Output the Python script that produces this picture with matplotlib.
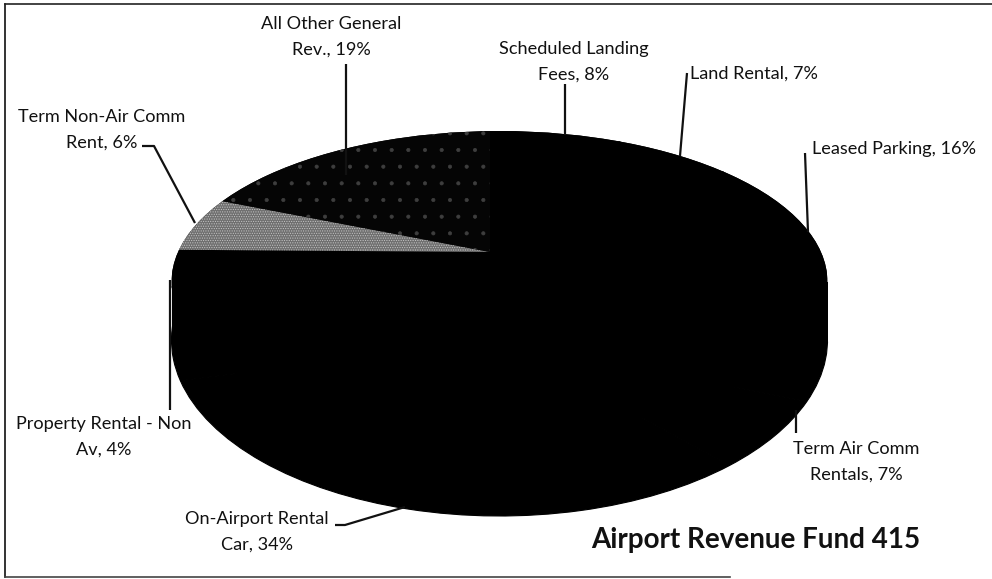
import matplotlib
matplotlib.use('Agg')
import matplotlib.pyplot as plt
from matplotlib.patches import Ellipse, Rectangle

W, H = 992, 579

categories = ['Scheduled Landing\nFees', 'Land Rental', 'Leased Parking', 'Term Air Comm\nRentals',
              'On-Airport Rental\nCar', 'Property Rental - Non\nAv', 'Term Non-Air Comm\nRent',
              'All Other General\nRev.']
shares = [8, 7, 16, 7, 34, 4, 6, 19]
title = 'Airport Revenue Fund 415'

slice_colors = ['black', 'black', 'black', 'black', 'black', 'black', '#6f6f6f', '#050505']
slice_edges = ['black', 'black', 'black', 'black', 'black', 'black', '#c4c4c4', '#3e3e3e']
slice_hatch = [None, None, None, None, None, None, '.......', '.']

label_xy = [(574, 62), (754, 74), (894, 149), (856, 462), (257, 532), (104, 437), (102, 130), (331, 37)]
leaders = [
    [(565, 84), (565, 135)],
    [(687, 73), (680, 156)],
    [(805, 153), (808, 232)],
    [(796, 410), (796, 433)],
    [(335, 525), (345, 525), (405, 507)],
    [(170, 280), (170, 410)],
    [(142, 146), (154, 146), (195, 223)],
    [(346, 64), (346, 175)],
]
border_left = [(5, 4), (5, 577)]
border_top = [(5, 4), (992, 4)]
border_bottom = [(5, 577), (730, 577)]

plt.rcParams['font.family'] = ['Lato', 'DejaVu Sans']
plt.rcParams['hatch.linewidth'] = 0.5

fig = plt.figure(figsize=(W / 100, H / 100), dpi=100, facecolor='white')


def pie_axes(cx, cy, rx, ry, z):
    ax = fig.add_axes([(cx - rx) / W, 1 - (cy + ry) / H, 2 * rx / W, 2 * ry / H], zorder=z)
    ax.patch.set_visible(False)
    return ax


def finish_pie(ax):
    ax.set_aspect('auto')
    ax.set_xlim(-1, 1)
    ax.set_ylim(-1, 1)
    ax.axis('off')


def pixel_axes(z):
    ax = fig.add_axes([0, 0, 1, 1], zorder=z)
    ax.set_xlim(0, W)
    ax.set_ylim(H, 0)
    ax.axis('off')
    return ax


page = pixel_axes(1)
for pts, col in [(border_left, '#111111'), (border_top, '#222222'), (border_bottom, '#444444')]:
    page.plot([p[0] for p in pts], [p[1] for p in pts], color=col, lw=1.2)

# lower rim of the pie
low = pie_axes(499.5, 340, 328, 176, 2)
low.pie(shares, colors=['black'] * len(shares), startangle=90, counterclock=False, radius=1,
        wedgeprops={'edgecolor': 'black', 'linewidth': 0.8})
finish_pie(low)

side = pixel_axes(3)
side.add_patch(Rectangle((171.5, 282), 656, 58, fc='black', ec='none'))

# top surface: apex sits above the ellipse middle, clipped to the outline
top_outline = pie_axes(499.5, 282, 328, 151, 4)
top_outline.add_patch(Ellipse((0, 0), 2, 2, fc='black', ec='none'))
top_outline.set_xlim(-1, 1)
top_outline.set_ylim(-1, 1)
top_outline.axis('off')

top = pie_axes(490, 252, 345, 160, 5)
wedges, _ = top.pie(shares, colors=slice_colors, startangle=90, counterclock=False, radius=1)
finish_pie(top)
clip = Ellipse((0, 0), 2, 2, transform=top_outline.transData)
for w, ec, h in zip(wedges, slice_edges, slice_hatch):
    w.set_clip_on(True)
    w.set_clip_path(clip)
    w.set_edgecolor(ec)
    if h:
        w.set_hatch(h)
        w.set_linewidth(0)
    else:
        w.set_linewidth(0.8)

overlay = pixel_axes(6)

for pts in leaders:
    overlay.plot([p[0] for p in pts], [p[1] for p in pts], color='#111111', lw=1.6, solid_capstyle='butt')

for name, share, (x, y) in zip(categories, shares, label_xy):
    overlay.text(x, y, f'{name}, {share}%', ha='center', va='center', fontsize=13.1, color='#111111',
                 linespacing=1.7)

overlay.text(756, 540, title, ha='center', va='center', fontsize=20, fontweight='bold', color='#111111')

fig.savefig('out.png', dpi=100)
